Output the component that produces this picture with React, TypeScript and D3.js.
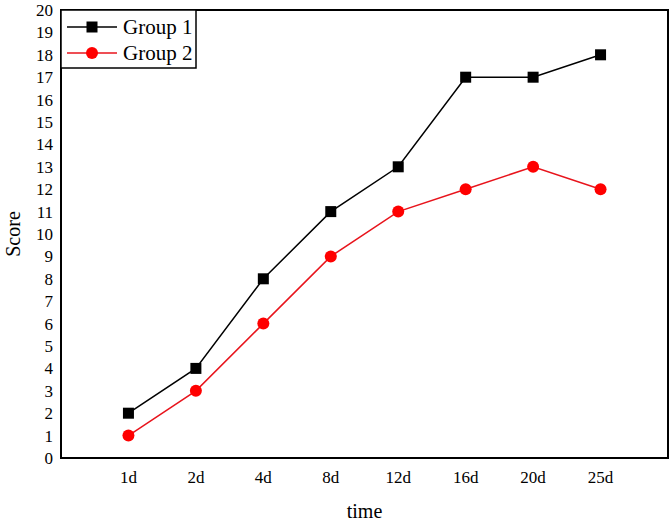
import React from "react";
import * as d3 from "d3";

const categories = ["1d", "2d", "4d", "8d", "12d", "16d", "20d", "25d"];
const group1 = [2, 4, 8, 11, 13, 17, 17, 18];
const group2 = [1, 3, 6, 9, 11, 12, 13, 12];
const yTicks = d3.range(0, 21);

const W = 670, H = 524;
const L = 61, R = 668, T = 10, B = 458;

export default function App() {
  const x = d3.scaleLinear().domain([0, categories.length + 1]).range([L, R]);
  const y = d3.scaleLinear().domain([0, 20]).range([B, T]);
  const line = d3.line<number>().x((_, i) => x(i + 1)).y(d => y(d));
  const font = "'Liberation Serif', 'Times New Roman', serif";
  return (
    <svg width={W} height={H} style={{ position: "absolute", left: 0, top: 0, background: "#fff" }} fontFamily={font}>
      <rect x={0} y={0} width={W} height={H} fill="#fff" />
      {yTicks.map(t => (
        <text key={t} x={L - 8} y={y(t)} dy="0.35em" textAnchor="end" fontSize={17} fill="#000">{t}</text>
      ))}
      {categories.map((c, i) => (
        <text key={c} x={x(i + 1)} y={B + 19} dy="0.35em" textAnchor="middle" fontSize={17} fill="#000">{c}</text>
      ))}
      <path d={line(group1) || ""} fill="none" stroke="#000" strokeWidth={1.5} />
      <path d={line(group2) || ""} fill="none" stroke="#e8141c" strokeWidth={1.5} />
      {group1.map((v, i) => (
        <rect key={i} x={x(i + 1) - 5.5} y={y(v) - 5.5} width={11} height={11} fill="#000" />
      ))}
      {group2.map((v, i) => (
        <circle key={i} cx={x(i + 1)} cy={y(v)} r={6} fill="#ff0000" />
      ))}
      <rect x={L} y={T} width={R - L} height={B - T} fill="none" stroke="#000" strokeWidth={2} />
      <g>
        <rect x={L} y={T} width={135} height={58} fill="#fff" stroke="#000" strokeWidth={1.5} />
        <line x1={67} x2={117} y1={27} y2={27} stroke="#000" strokeWidth={1.5} />
        <rect x={92 - 5.5} y={27 - 5.5} width={11} height={11} fill="#000" />
        <text x={123} y={27} dy="0.35em" fontSize={21} fill="#000">Group 1</text>
        <line x1={67} x2={117} y1={53} y2={53} stroke="#e8141c" strokeWidth={1.5} />
        <circle cx={92} cy={53} r={6} fill="#ff0000" />
        <text x={123} y={53} dy="0.35em" fontSize={21} fill="#000">Group 2</text>
      </g>
      <text transform={`translate(13,${(T + B) / 2}) rotate(-90)`} textAnchor="middle" dy="0.35em" fontSize={20} fill="#000">Score</text>
      <text x={(L + R) / 2} y={511} textAnchor="middle" dy="0.35em" fontSize={20} fill="#000">time</text>
    </svg>
  );
}
